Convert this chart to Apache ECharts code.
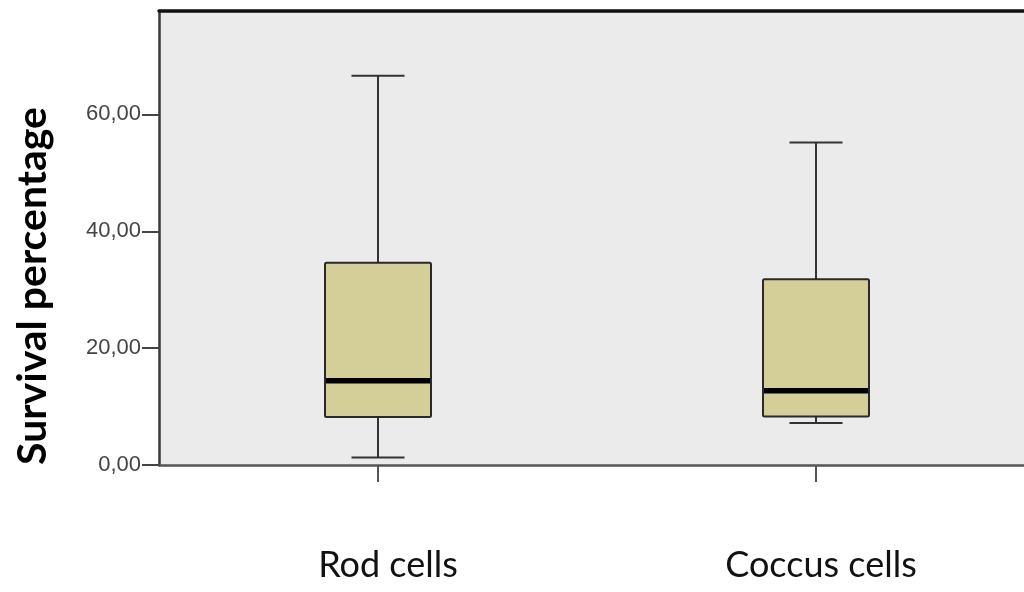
<!DOCTYPE html>
<html>
<head>
<meta charset="utf-8">
<script src="https://cdn.jsdelivr.net/npm/echarts@6/dist/echarts.min.js"></script>
<style>
html,body{margin:0;padding:0;background:#fff;}
#chart{width:1024px;height:592px;}
</style>
</head>
<body>
<div id="chart"></div>
<script>
const categories = ['Rod cells', 'Coccus cells'];
// [lower whisker, Q1, median, Q3, upper whisker]
const rodCells = [1.3, 8.2, 14.4, 34.6, 66.6];
const coccusCells = [7.2, 8.3, 12.7, 31.8, 55.2];
const yTicks = [0, 20, 40, 60];
const yTitle = 'Survival percentage';

const boxData = [
  [0].concat(rodCells),
  [1].concat(coccusCells)
];

const chart = echarts.init(document.getElementById('chart'));
chart.setOption({
  animation: false,
  backgroundColor: '#ffffff',
  grid: {
    left: 159, top: 11, width: 876, height: 454,
    outerBoundsMode: 'none',
    containLabel: false,
    show: true, backgroundColor: '#ebebeb', borderWidth: 0
  },
  xAxis: [{
    type: 'category',
    data: categories,
    axisLine: { show: true, lineStyle: { color: '#555', width: 2.5 } },
    axisTick: { show: true, alignWithLabel: true, length: 17, lineStyle: { color: '#555', width: 2 } },
    axisLabel: {
      margin: 82, fontFamily: 'Lato', fontSize: 36, color: '#111',
      formatter: function (v, i) { return i === 0 ? '{a|' + v + '}' : '{b|' + v + '}'; },
      rich: {
        a: { fontFamily: 'Lato', fontSize: 36, color: '#111', padding: [0, 0, 0, 20] },
        b: { fontFamily: 'Lato', fontSize: 36, color: '#111', padding: [0, 0, 0, 10] }
      }
    },
    splitLine: { show: false }
  }, {
    type: 'category',
    data: categories,
    position: 'top',
    axisLine: { show: true, lineStyle: { color: '#111', width: 3.5 } },
    axisTick: { show: false },
    axisLabel: { show: false }
  }],
  yAxis: {
    type: 'value',
    min: 0, max: 77.7, interval: 20,
    axisLine: { show: true, lineStyle: { color: '#3a3a3a', width: 2.5 } },
    axisTick: { show: true, length: 17, customValues: yTicks, lineStyle: { color: '#444', width: 2 } },
    axisLabel: {
      customValues: yTicks,
      margin: 18,
      fontFamily: 'Liberation Sans',
      fontSize: 22,
      color: '#444',
      formatter: v => v.toFixed(2).replace('.', ',')
    },
    splitLine: { show: false }
  },
  graphic: [{
    type: 'text',
    x: 33, y: 286,
    rotation: Math.PI / 2,
    style: {
      text: yTitle,
      font: 'bold 41px Lato',
      fill: '#000',
      align: 'center',
      verticalAlign: 'middle'
    }
  }],
  series: [{
    type: 'custom',
    data: boxData,
    encode: { x: 0, y: [1, 2, 3, 4, 5] },
    renderItem: function (params, api) {
      const c = api.value(0);
      const x = api.coord([c, 0])[0];
      const yLow = api.coord([c, api.value(1)])[1];
      const yQ1 = api.coord([c, api.value(2)])[1];
      const yMed = api.coord([c, api.value(3)])[1];
      const yQ3 = api.coord([c, api.value(4)])[1];
      const yHigh = api.coord([c, api.value(5)])[1];
      const band = api.size([1, 0])[0];
      const bw = band * 0.242;
      const cw = bw * 0.5;
      const line = { stroke: '#333', lineWidth: 2 };
      return {
        type: 'group',
        children: [
          { type: 'line', shape: { x1: x, y1: yHigh, x2: x, y2: yQ3 }, style: line },
          { type: 'line', shape: { x1: x, y1: yQ1, x2: x, y2: yLow }, style: line },
          { type: 'line', shape: { x1: x - cw / 2, y1: yHigh, x2: x + cw / 2, y2: yHigh }, style: line },
          { type: 'line', shape: { x1: x - cw / 2, y1: yLow, x2: x + cw / 2, y2: yLow }, style: line },
          { type: 'rect', shape: { x: x - bw / 2, y: yQ3, width: bw, height: yQ1 - yQ3, r: 1.5 },
            style: { fill: '#d4cf99', stroke: '#2a2a2a', lineWidth: 2 } },
          { type: 'line', shape: { x1: x - bw / 2 + 1, y1: yMed, x2: x + bw / 2 - 1, y2: yMed },
            style: { stroke: '#000', lineWidth: 5.5 } }
        ]
      };
    }
  }]
});
</script>
</body>
</html>
